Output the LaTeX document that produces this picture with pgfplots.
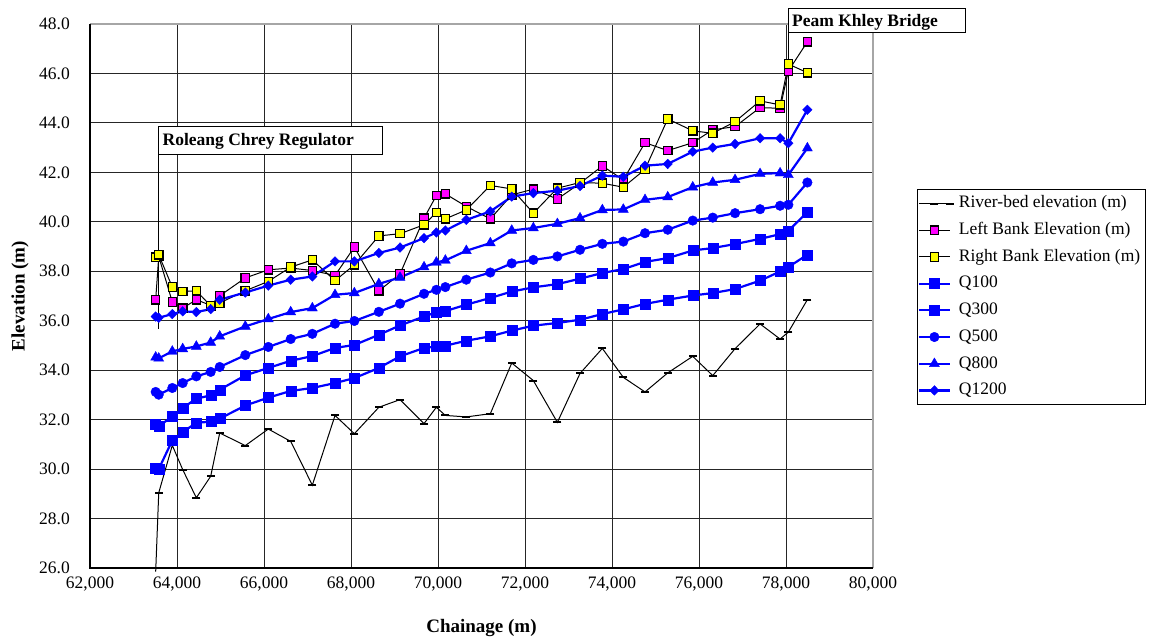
\documentclass[border=0pt]{standalone}
\usepackage{fontspec}
\setmainfont{Liberation Serif}
\usepackage{pgfplots}
\usepackage{pgfplotstable}
\pgfplotsset{compat=1.18}
\definecolor{qblue}{RGB}{0,0,255}
\definecolor{lbmag}{RGB}{255,0,255}
\definecolor{rbyel}{RGB}{255,255,0}
\pgfplotstableread{
x bed lb rb q100 q300 q500 q800 q1200
63510 25.85 36.85 38.57 30.02 31.83 33.12 34.52 36.17
63580 29.04 38.60 38.67 30.00 31.73 33.01 34.48 36.12
63892 30.96 36.76 37.36 31.16 32.13 33.28 34.76 36.27
64131 29.98 36.51 37.18 31.50 32.47 33.48 34.86 36.38
64444 28.84 36.85 37.21 31.87 32.85 33.75 34.96 36.35
64775 29.71 36.62 36.60 31.92 32.98 33.93 35.12 36.47
64982 31.46 37.01 36.72 32.04 33.21 34.13 35.37 36.85
65570 30.95 37.73 37.21 32.57 33.79 34.61 35.77 37.14
66099 31.62 38.06 37.59 32.89 34.09 34.94 36.07 37.42
66614 31.12 38.13 38.17 33.16 34.38 35.26 36.35 37.66
67111 29.35 38.03 38.46 33.28 34.57 35.47 36.51 37.79
67633 32.17 37.83 37.62 33.48 34.90 35.88 37.05 38.40
68077 31.43 38.98 38.26 33.68 35.02 35.99 37.12 38.40
68640 32.50 37.21 39.43 34.09 35.43 36.36 37.49 38.74
69127 32.81 37.89 39.52 34.56 35.81 36.69 37.75 38.96
69679 31.84 40.15 39.88 34.90 36.17 37.09 38.17 39.34
69962 32.50 41.06 40.38 34.96 36.34 37.25 38.36 39.57
70169 32.17 41.13 40.12 34.99 36.39 37.36 38.44 39.65
70651 32.11 40.62 40.48 35.19 36.65 37.66 38.83 40.08
71203 32.24 40.12 41.47 35.37 36.92 37.95 39.14 40.42
71695 34.29 41.09 41.33 35.60 37.18 38.32 39.65 41.02
72192 33.58 41.32 40.35 35.80 37.35 38.46 39.75 41.16
72744 31.89 40.92 41.36 35.91 37.48 38.60 39.92 41.26
73265 33.87 41.56 41.59 36.04 37.70 38.87 40.15 41.45
73778 34.88 42.26 41.56 36.27 37.93 39.11 40.48 41.87
74260 33.71 41.70 41.40 36.46 38.09 39.20 40.50 41.82
74759 33.12 43.20 42.12 36.68 38.38 39.54 40.89 42.27
75281 33.89 42.88 44.16 36.85 38.53 39.68 41.00 42.34
75856 34.56 43.20 43.68 37.02 38.84 40.05 41.40 42.84
76316 33.78 43.72 43.58 37.12 38.94 40.17 41.59 43.00
76829 34.87 43.85 44.05 37.28 39.10 40.35 41.70 43.15
77404 35.87 44.62 44.89 37.62 39.31 40.51 41.94 43.38
77864 35.26 44.59 44.73 37.99 39.50 40.65 41.97 43.38
78054 35.54 46.10 46.38 38.17 39.64 40.69 41.90 43.18
78491 36.85 47.28 46.03 38.67 40.39 41.59 42.98 44.53
}\data
\begin{document}
\fontsize{8.75}{10.5}\selectfont
\begin{tikzpicture}
\useasboundingbox (0,0) rectangle (574.5pt,318.5pt);
\begin{axis}[
  at={(45pt,34.5pt)}, anchor=south west,
  width=391.5pt, height=272pt, scale only axis,
  xmin=62000, xmax=80000, ymin=26, ymax=48,
  xtick={62000,64000,66000,68000,70000,72000,74000,76000,78000,80000},
  ytick={26,28,30,32,34,36,38,40,42,44,46,48},
  scaled x ticks=false,
  /pgf/number format/assume math mode=true,
  xticklabel style={yshift=-1.5pt, /pgf/number format/1000 sep={,}},
  yticklabel style={xshift=-7pt, /pgf/number format/fixed, /pgf/number format/fixed zerofill, /pgf/number format/precision=1},
  grid=major,
  major grid style={black!85, line width=0.5pt},
  axis line style={draw=none},
  major tick length=0pt,
  clip=false,
  xlabel={\textbf{Chainage (m)}},
  xlabel style={at={(axis description cs:0.5,-0.110)}, anchor=center, font=\fontsize{9.5}{11}\selectfont},
  ylabel={\textbf{Elevation (m)}},
  ylabel style={at={(axis description cs:-0.0894,0.5)}, anchor=center, font=\fontsize{9.5}{11}\selectfont},
  legend cell align=left,
  legend style={at={(1.0558,0.6961)}, anchor=north west, draw=black, line width=0.5pt, fill=white,
    inner sep=0.3pt, row sep=0.25pt,
    nodes={inner sep=2.5pt, text height=6.2pt, text depth=1.9pt},
    font=\fontsize{8.75}{10.5}\selectfont},
  legend image code/.code={\draw[mark repeat=2,mark phase=2,#1] plot coordinates {(0pt,0pt) (7.75pt,0pt) (15.5pt,0pt)};},
]
\addplot[black, line width=0.5pt, mark=-, mark size=2pt, mark options={solid, line width=1pt},
  mark indices={2,3,4,5,6,7,8,9,10,11,12,13,14,15,16,17,18,19,20,21,22,23,24,25,26,27,28,29,30,31,32,33,34,35}]
  table[x=x,y=bed]{\data};
\addlegendentry{River-bed elevation (m)}
\addplot[black, line width=0.5pt, mark=square*, mark size=2.1pt, mark options={solid, fill=lbmag, draw=black, line width=0.6pt}]
  table[x=x,y=lb]{\data};
\addlegendentry{Left Bank Elevation (m)}
\addplot[black, line width=0.5pt, mark=square*, mark size=2.1pt, mark options={solid, fill=rbyel, draw=black, line width=0.6pt}]
  table[x=x,y=rb]{\data};
\addlegendentry{Right Bank Elevation (m)}
\addplot[qblue, line width=1.1pt, mark=square*, mark size=2.5pt, mark options={solid, fill=qblue, draw=qblue, line width=0.2pt}]
  table[x=x,y=q100]{\data};
\addlegendentry{Q100}
\addplot[qblue, line width=1.1pt, mark=square*, mark size=2.5pt, mark options={solid, fill=qblue, draw=qblue, line width=0.2pt}]
  table[x=x,y=q300]{\data};
\addlegendentry{Q300}
\addplot[qblue, line width=1.1pt, mark=*, mark size=2.4pt, mark options={solid, fill=qblue, draw=qblue, line width=0.2pt}]
  table[x=x,y=q500]{\data};
\addlegendentry{Q500}
\addplot[qblue, line width=1.1pt, mark=triangle*, mark size=2.9pt, mark options={solid, fill=qblue, draw=qblue, line width=0.2pt}]
  table[x=x,y=q800]{\data};
\addlegendentry{Q800}
\addplot[qblue, line width=1.1pt, mark=diamond*, mark size=2.4pt, mark options={solid, xscale=1.3, fill=qblue, draw=qblue, line width=0.2pt}]
  table[x=x,y=q1200]{\data};
\addlegendentry{Q1200}
% plot frame
\draw[gray!70, line width=0.75pt] (rel axis cs:0,1) -- (rel axis cs:1,1) -- (rel axis cs:1,0);
\draw[black, line width=0.75pt] (rel axis cs:0,1) -- (rel axis cs:0,0) -- (rel axis cs:1,0);
% annotations
\draw[black, line width=0.5pt] (axis cs:63579,42.74) -- (axis cs:63579,35.68);
\draw[black, line width=0.5pt, fill=white] (axis cs:63579,43.85) rectangle (axis cs:68713,42.74);
\node[anchor=base west, inner sep=0pt, font=\bfseries] at (axis cs:63661,43.08) {Roleang Chrey Regulator};
\draw[black, line width=0.5pt] (axis cs:78054,47.66) -- (axis cs:78054,40.6);
\draw[black, line width=0.5pt, fill=white] (axis cs:78054,48.63) rectangle (axis cs:82115,47.66);
\node[anchor=base west, inner sep=0pt, font=\bfseries] at (axis cs:78132,47.89) {Peam Khley Bridge};
\end{axis}
\end{tikzpicture}
\end{document}
